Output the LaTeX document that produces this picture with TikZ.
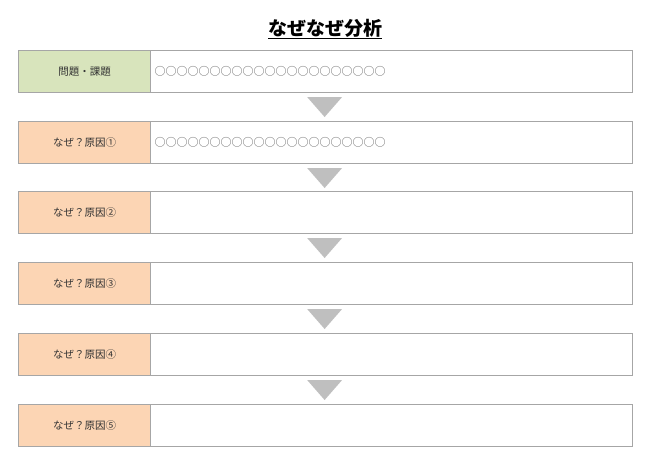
\documentclass[tikz,border=0pt]{standalone}
\usepackage{fontspec}
\setmainfont{Noto Sans CJK JP}
\usetikzlibrary{calc}
\definecolor{lgreen}{HTML}{D8E4BC}
\definecolor{lorange}{HTML}{FCD5B4}
\definecolor{bord}{HTML}{A6A6A6}
\definecolor{tri}{HTML}{BFBFBF}
\begin{document}
\begin{tikzpicture}[x=1pt,y=-1pt,
  lab/.style={draw=bord,line width=1pt,minimum width=132pt,minimum height=42pt,inner sep=0pt,font=\fontsize{10.5}{12}\selectfont,text=black!80,anchor=north west},
  body/.style={draw=bord,line width=1pt,minimum width=482pt,minimum height=42pt,inner sep=4pt,font=\fontsize{11}{12}\selectfont,text=black!65,anchor=north west,text width=474pt,align=left},
  arr/.style={fill=tri,draw=none}]
\useasboundingbox (0,0) rectangle (650,459);
\node[font=\bfseries\fontsize{19}{22}\selectfont] (title) at (325,29) {\underline{なぜなぜ分析}};
\foreach \i/\y/\t/\c/\b in {1/50/問題・課題/lgreen/○○○○○○○○○○○○○○○○○○○○○,
                             2/121/なぜ？原因①/lorange/○○○○○○○○○○○○○○○○○○○○○,
                             3/191/なぜ？原因②/lorange/,
                             4/262/なぜ？原因③/lorange/,
                             5/333/なぜ？原因④/lorange/,
                             6/404/なぜ？原因⑤/lorange/}{
  \node[body] (m\i) at (150,\y) {\b};
  \node[lab,fill=\c] (l\i) at (18,\y) {\t};
}
\foreach \i in {1,...,5}{
  \fill[arr] ($(m\i.south west)!0.3605!(m\i.south east)+(-17,4)$) -- ++(35,0) -- ++(-17.5,20) -- cycle;
}
\end{tikzpicture}
\end{document}
